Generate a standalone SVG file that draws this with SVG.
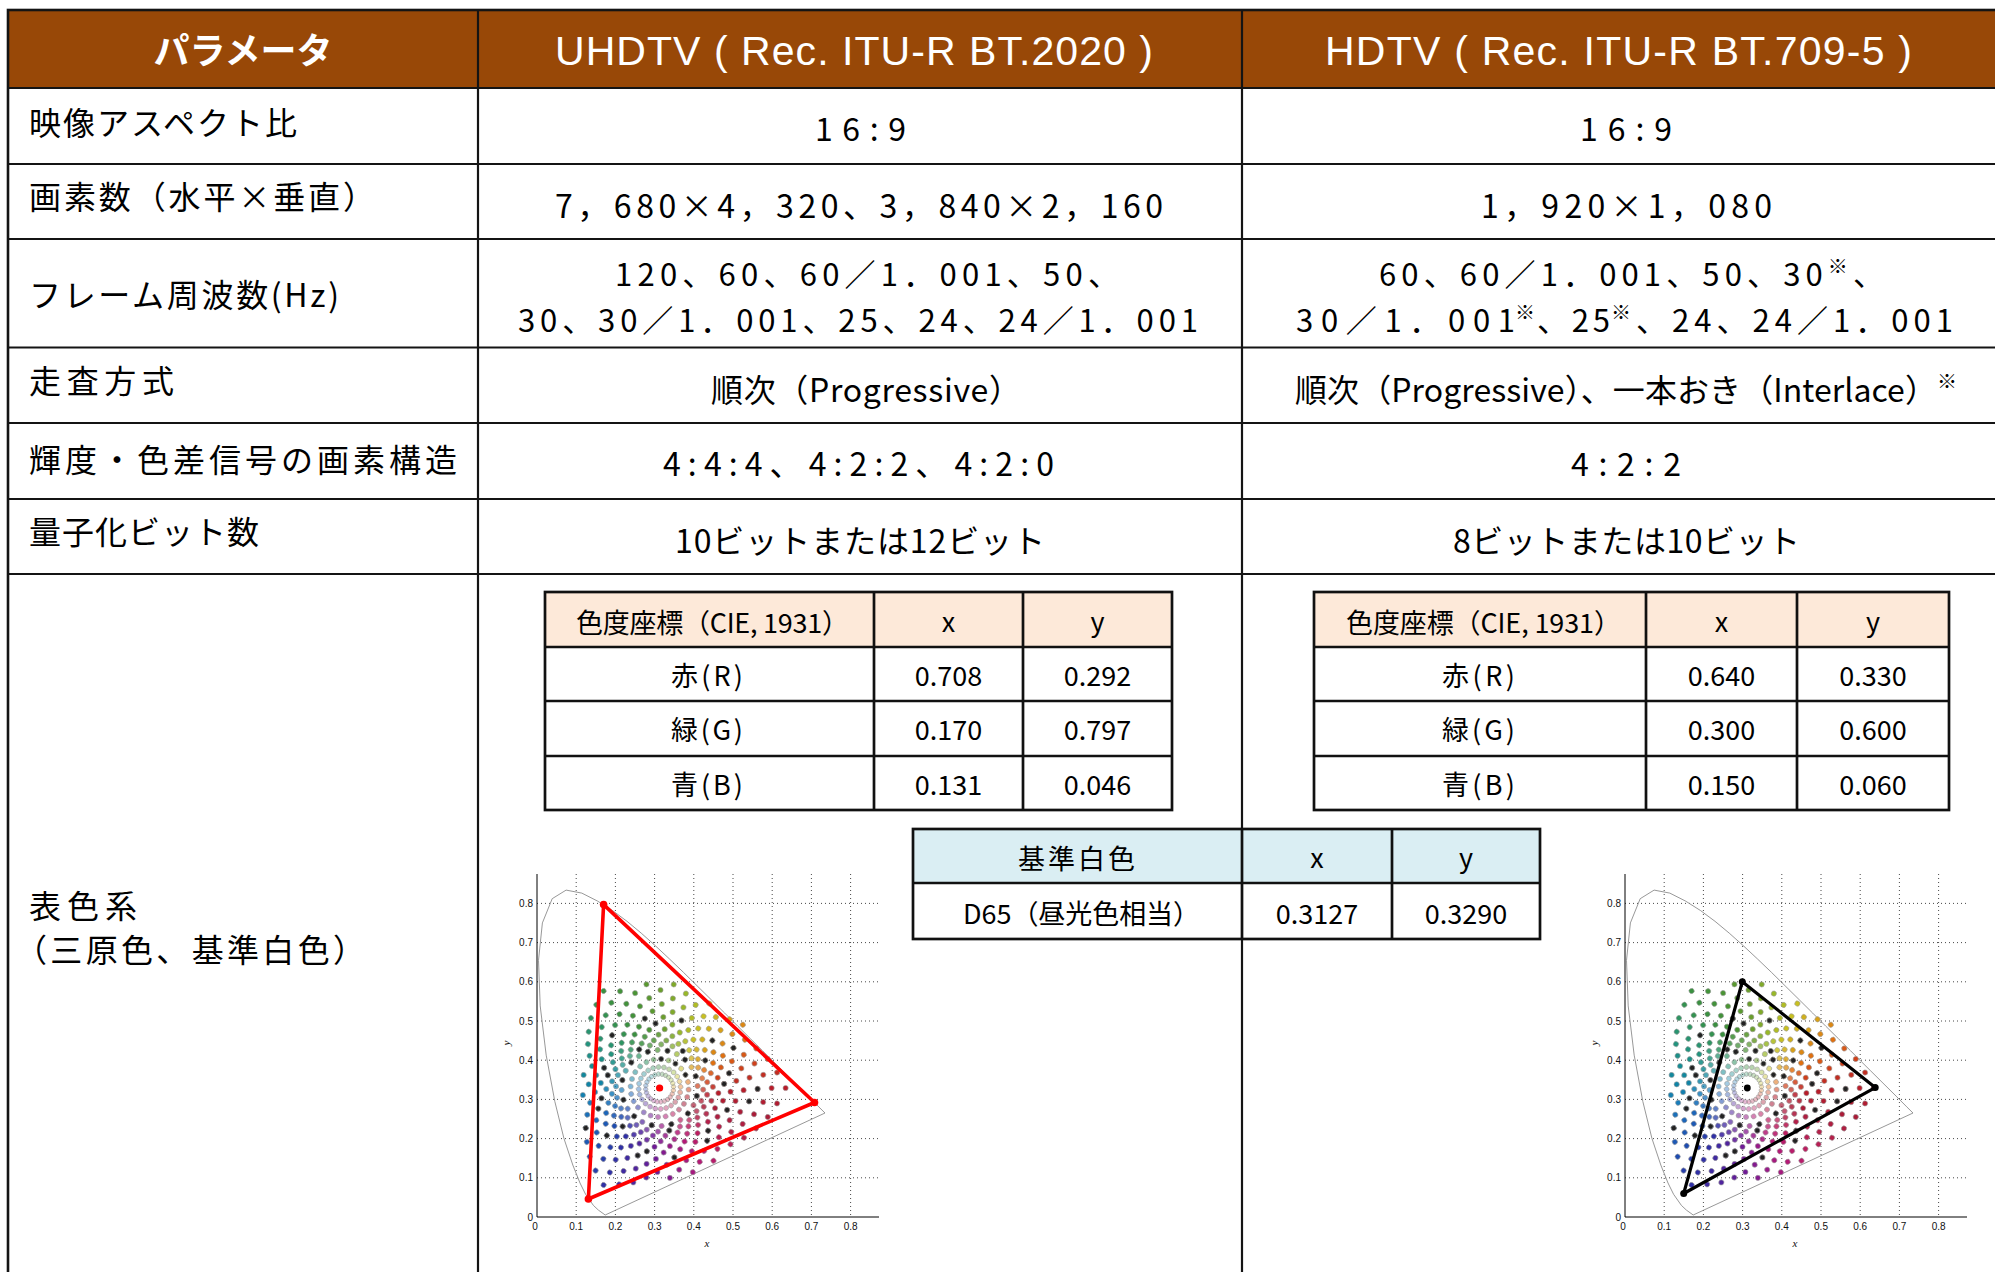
<svg xmlns="http://www.w3.org/2000/svg" width="1995" height="1272" viewBox="0 0 1995 1272">
<style>
.ln{stroke:#141414;stroke-width:2.2;fill:none}
.hd{font-family:"Liberation Sans",Arial,sans-serif;font-size:41px;fill:#fff}
.hj{font-family:"Noto Sans CJK JP","Noto Sans",sans-serif;font-weight:bold;font-size:36px;fill:#fff}
.lb,.v{font-family:"Noto Sans CJK JP","Noto Sans",sans-serif;font-size:32px;fill:#000}
.v2{font-family:"Noto Sans CJK JP","Noto Sans",sans-serif;font-size:31px;fill:#000}
.sup{font-size:20px}
.sp{font-family:"Noto Sans CJK JP","Noto Sans",sans-serif;font-size:20px;fill:#000}
.t{font-family:"Noto Sans CJK JP","Noto Sans",sans-serif;font-size:27px;fill:#000}
.tn{font-family:"Noto Sans CJK JP","Noto Sans",sans-serif;font-size:27px;fill:#000;text-anchor:middle}
.it{stroke:#111;stroke-width:2.7;fill:none}
.gr{stroke:#333;stroke-width:0.9;stroke-dasharray:1 3;fill:none}
.axl{stroke:#000;stroke-width:1;fill:none}
.tk{font-family:"Liberation Sans",Arial,sans-serif;font-size:10px;fill:#111}
.tky{font-family:"Liberation Sans",Arial,sans-serif;font-size:10px;fill:#111;text-anchor:end}
.ttl{font-family:"Liberation Serif",serif;font-style:italic;font-size:11px;fill:#111}
.hs{stroke:#8c8c8c;stroke-width:0.9;fill:none;stroke-linejoin:round}
.dt{stroke:#a0a0a0;stroke-width:0.6}
.dk{fill:#222;stroke:#a0a0a0;stroke-width:0.6}
</style>
<defs>
<g id="c">
<circle class="dt" r="2.2" cx="10.7" cy="9" fill-opacity=".3"/>
<circle class="dt" r="2.4" cx="18.7" cy="9.5" fill-opacity=".4"/>
<circle class="dt" r="2.5" cx="27.6" cy="9" fill-opacity=".55"/>
</g>
<g id="s8">
<circle class="dt" r="2.6" cx="37.2" cy="7.9" fill-opacity=".7"/>
<circle class="dt" r="2.6" cx="47.5" cy="6.7" fill-opacity=".85"/>
<circle class="dt" r="2.6" cx="58.8" cy="5.1"/>
<circle class="dt" r="2.6" cx="70.9" cy="3.7"/>
</g>
<g id="s9"><use href="#s8"/><circle class="dt" r="2.6" cx="84" cy="2.2"/></g>
<g id="s10"><use href="#s9"/><circle class="dt" r="2.6" cx="98" cy="0.9"/></g>
<g id="s11"><use href="#s10"/><circle class="dt" r="2.6" cx="112" cy="0"/></g>
<g id="s12"><use href="#s11"/><circle class="dt" r="2.6" cx="126" cy="0"/></g>
<g id="t8">
<circle class="dt" r="2.6" cx="43" cy="7.3" fill-opacity=".75"/>
<circle class="dt" r="2.6" cx="53" cy="5.9" fill-opacity=".9"/>
<circle class="dt" r="2.6" cx="64.5" cy="4.4"/>
<circle class="dt" r="2.6" cx="77" cy="3"/>
</g>
<g id="t9"><use href="#t8"/><circle class="dt" r="2.6" cx="90.5" cy="1.5"/></g>
<g id="t10"><use href="#t9"/><circle class="dt" r="2.6" cx="104.5" cy="0.5"/></g>
<g id="t11"><use href="#t10"/><circle class="dt" r="2.6" cx="118.5" cy="0"/></g>
<g id="cloud">
<g transform="rotate(0)" fill="#b81c2a"><use href="#c"/><use href="#s12"/><circle class="dk" r="2.6" cx="37.2" cy="7.9"/><circle class="dk" r="2.6" cx="98" cy="0.9"/></g>
<g transform="rotate(-15)" fill="#d0401a"><use href="#c"/><use href="#s11"/><circle class="dk" r="2.6" cx="70.9" cy="3.7"/></g>
<g transform="rotate(-30)" fill="#e07010"><use href="#c"/><use href="#s10"/><circle class="dk" r="2.6" cx="37.2" cy="7.9"/><circle class="dk" r="2.6" cx="84" cy="2.2"/></g>
<g transform="rotate(-45)" fill="#d8a018"><use href="#c"/><use href="#s10"/><circle class="dk" r="2.6" cx="70.9" cy="3.7"/><circle class="dk" r="2.5" cx="27.6" cy="9"/></g>
<g transform="rotate(-60)" fill="#c8c020"><use href="#c"/><use href="#s10"/><circle class="dk" r="2.6" cx="37.2" cy="7.9"/></g>
<g transform="rotate(-75)" fill="#98b828"><use href="#c"/><use href="#s10"/><circle class="dk" r="2.6" cx="70.9" cy="3.7"/><circle class="dk" r="2.5" cx="27.6" cy="9"/></g>
<g transform="rotate(-90)" fill="#6a9e2c"><use href="#c"/><use href="#s10"/><circle class="dk" r="2.6" cx="37.2" cy="7.9"/></g>
<g transform="rotate(-105)" fill="#4a9434"><use href="#c"/><use href="#s10"/><circle class="dk" r="2.6" cx="70.9" cy="3.7"/><circle class="dk" r="2.5" cx="27.6" cy="9"/></g>
<g transform="rotate(-120)" fill="#3a9040"><use href="#c"/><use href="#s11"/><circle class="dk" r="2.6" cx="37.2" cy="7.9"/></g>
<g transform="rotate(-135)" fill="#2e9462"><use href="#c"/><use href="#s10"/><circle class="dk" r="2.6" cx="70.9" cy="3.7"/></g>
<g transform="rotate(-150)" fill="#22947e"><use href="#c"/><use href="#s9"/><circle class="dk" r="2.6" cx="37.2" cy="7.9"/></g>
<g transform="rotate(-165)" fill="#148c94"><use href="#c"/><use href="#s8"/><circle class="dk" r="2.6" cx="58.8" cy="5.1"/></g>
<g transform="rotate(-180)" fill="#1084a6"><use href="#c"/><use href="#s8"/><circle class="dk" r="2.6" cx="37.2" cy="7.9"/></g>
<g transform="rotate(-195)" fill="#187cba"><use href="#c"/><use href="#s8"/><circle class="dk" r="2.6" cx="58.8" cy="5.1"/></g>
<g transform="rotate(-210)" fill="#1c66ba"><use href="#c"/><use href="#s9"/><circle class="dk" r="2.6" cx="37.2" cy="7.9"/><circle class="dk" r="2.6" cx="84" cy="2.2"/></g>
<g transform="rotate(-225)" fill="#1e4cb0"><use href="#c"/><use href="#s10"/><circle class="dk" r="2.6" cx="70.9" cy="3.7"/></g>
<g transform="rotate(-240)" fill="#3030a6"><use href="#c"/><use href="#s11"/><circle class="dk" r="2.6" cx="37.2" cy="7.9"/></g>
<g transform="rotate(-255)" fill="#50249e"><use href="#c"/><use href="#s10"/><circle class="dk" r="2.6" cx="70.9" cy="3.7"/></g>
<g transform="rotate(-270)" fill="#701a96"><use href="#c"/><use href="#s9"/><circle class="dk" r="2.6" cx="37.2" cy="7.9"/></g>
<g transform="rotate(-285)" fill="#981a88"><use href="#c"/><use href="#s9"/><circle class="dk" r="2.6" cx="70.9" cy="3.7"/></g>
<g transform="rotate(-300)" fill="#b41a76"><use href="#c"/><use href="#s9"/><circle class="dk" r="2.6" cx="37.2" cy="7.9"/></g>
<g transform="rotate(-315)" fill="#bc1e60"><use href="#c"/><use href="#s9"/><circle class="dk" r="2.6" cx="70.9" cy="3.7"/></g>
<g transform="rotate(-330)" fill="#b4204a"><use href="#c"/><use href="#s10"/><circle class="dk" r="2.6" cx="37.2" cy="7.9"/></g>
<g transform="rotate(-345)" fill="#aa1c38"><use href="#c"/><use href="#s11"/><circle class="dk" r="2.6" cx="70.9" cy="3.7"/></g>
<g transform="rotate(-7.5)" fill="#c22e22"><use href="#t11"/><circle class="dk" r="2.6" cx="64.5" cy="4.4"/></g>
<g transform="rotate(-22.5)" fill="#d85816"><use href="#t10"/></g>
<g transform="rotate(-37.5)" fill="#dc8814"><use href="#t10"/><circle class="dk" r="2.6" cx="53" cy="5.9"/></g>
<g transform="rotate(-52.5)" fill="#d0b01c"><use href="#t9"/></g>
<g transform="rotate(-67.5)" fill="#b0bc24"><use href="#t9"/><circle class="dk" r="2.6" cx="43" cy="7.3"/></g>
<g transform="rotate(-82.5)" fill="#80aa2a"><use href="#t10"/></g>
<g transform="rotate(-97.5)" fill="#5a9930"><use href="#t10"/><circle class="dk" r="2.6" cx="64.5" cy="4.4"/></g>
<g transform="rotate(-112.5)" fill="#42923a"><use href="#t10"/></g>
<g transform="rotate(-127.5)" fill="#349250"><use href="#t10"/><circle class="dk" r="2.6" cx="43" cy="7.3"/></g>
<g transform="rotate(-142.5)" fill="#289470"><use href="#t9"/></g>
<g transform="rotate(-157.5)" fill="#1c9088"><use href="#t8"/></g>
<g transform="rotate(-172.5)" fill="#12889d"><use href="#t8"/><circle class="dk" r="2.6" cx="53" cy="5.9"/></g>
<g transform="rotate(-187.5)" fill="#1480b0"><use href="#t8"/></g>
<g transform="rotate(-202.5)" fill="#1a70ba"><use href="#t8"/><circle class="dk" r="2.6" cx="64.5" cy="4.4"/></g>
<g transform="rotate(-217.5)" fill="#1d59b5"><use href="#t9"/></g>
<g transform="rotate(-232.5)" fill="#273eab"><use href="#t10"/><circle class="dk" r="2.6" cx="53" cy="5.9"/></g>
<g transform="rotate(-247.5)" fill="#402aa2"><use href="#t10"/></g>
<g transform="rotate(-262.5)" fill="#601f9a"><use href="#t9"/><circle class="dk" r="2.6" cx="64.5" cy="4.4"/></g>
<g transform="rotate(-277.5)" fill="#841a8f"><use href="#t9"/></g>
<g transform="rotate(-292.5)" fill="#a61a7f"><use href="#t9"/><circle class="dk" r="2.6" cx="43" cy="7.3"/></g>
<g transform="rotate(-307.5)" fill="#b81c6b"><use href="#t9"/></g>
<g transform="rotate(-322.5)" fill="#b81f55"><use href="#t9"/><circle class="dk" r="2.6" cx="64.5" cy="4.4"/></g>
<g transform="rotate(-337.5)" fill="#af1e41"><use href="#t10"/></g>
<g transform="rotate(-352.5)" fill="#b11c31"><use href="#t11"/><circle class="dk" r="2.6" cx="90.5" cy="1.5"/></g>
</g>
<g id="chart">
<path class="gr" d="M0 -39.2H342M0 -78.4H342M0 -117.6H342M0 -156.8H342M0 -196H342M0 -235.2H342M0 -274.4H342M0 -313.6H342M39.2 -343V0M78.4 -343V0M117.6 -343V0M156.8 -343V0M196 -343V0M235.2 -343V0M274.4 -343V0M313.6 -343V0"/>
<path class="axl" d="M0 -343V0H342"/>
<path class="hs" d="M68.2,-2 L61.4,-6.9 L56.4,-11.6 L48.6,-22.7 L43,-34 L35.8,-52 L26.9,-78.7 L17.8,-115.6 L9.2,-161.8 L3.2,-211.1 L1.5,-256.7 L5.4,-294.1 L15.2,-318.3 L29.1,-326.9 L44.8,-323.9 L60.6,-315.9 L75.6,-306.4 L90,-295.7 L104.2,-283.9 L118.2,-271.4 L132.2,-258.3 L146.3,-244.8 L160.2,-231.1 L174.1,-217.4 L187.7,-203.9 L200.9,-190.7 L213.6,-178.1 L225.5,-166.3 L236.3,-155.4 L245.8,-146 L261,-130.9 L271.1,-120.9 L281.8,-110.1 L288,-104 Z"/>
<use href="#cloud" x="122.6" y="-129"/>
<text class="tky" x="-4" y="3.5">0</text>
<text class="tky" x="-4" y="-35.7">0.1</text>
<text class="tky" x="-4" y="-74.9">0.2</text>
<text class="tky" x="-4" y="-114.1">0.3</text>
<text class="tky" x="-4" y="-153.3">0.4</text>
<text class="tky" x="-4" y="-192.5">0.5</text>
<text class="tky" x="-4" y="-231.7">0.6</text>
<text class="tky" x="-4" y="-270.9">0.7</text>
<text class="tky" x="-4" y="-310.1">0.8</text>
<g text-anchor="middle">
<text class="tk" x="-2" y="13">0</text>
<text class="tk" x="39.2" y="13">0.1</text>
<text class="tk" x="78.4" y="13">0.2</text>
<text class="tk" x="117.6" y="13">0.3</text>
<text class="tk" x="156.8" y="13">0.4</text>
<text class="tk" x="196" y="13">0.5</text>
<text class="tk" x="235.2" y="13">0.6</text>
<text class="tk" x="274.4" y="13">0.7</text>
<text class="tk" x="313.6" y="13">0.8</text>
<text class="ttl" x="170" y="30">x</text>
<text class="ttl" transform="translate(-27,-174) rotate(-90)">y</text>
</g>
</g>
</defs>

<g id="main-table">
<rect x="8" y="10" width="1994" height="78" fill="#984807"/>
<path class="ln" d="M8 88H2002M8 164H2002M8 239H2002M8 347.5H2002M8 423H2002M8 499H2002M8 574H2002M478 10V1272M1242 10V1272"/>
<rect x="8" y="10" width="2000" height="1280" fill="none" stroke="#141414" stroke-width="2.6"/>
</g>

<g id="header">
<text class="hj" x="243" y="64" text-anchor="middle">パラメータ</text>
<text class="hd" x="555" y="65" textLength="598">UHDTV ( Rec. ITU-R BT.2020 )</text>
<text class="hd" x="1325" y="65" textLength="587">HDTV ( Rec. ITU-R BT.709-5 )</text>
</g>

<g id="row-aspect">
<text class="lb" x="29" y="135" textLength="268">映像アスペクト比</text>
<text class="v" x="815" y="141" textLength="91">16:9</text>
<text class="v" x="1580" y="141" textLength="92">16:9</text>
</g>
<g id="row-pixels">
<text class="lb" x="29" y="209" textLength="346">画素数（水平×垂直）</text>
<text class="v" x="555" y="218" textLength="608">7，680×4，320、3，840×2，160</text>
<text class="v" x="1481" y="218" textLength="291">1，920×1，080</text>
</g>
<g id="row-frame">
<text class="lb" x="29" y="307" textLength="310">フレーム周波数(Hz)</text>
<text class="v2" x="615" y="286" textLength="504">120、60、60／1．001、50、</text>
<text class="v2" x="518" y="332" textLength="680">30、30／1．001、25、24、24／1．001</text>
<text class="v2" x="1379" y="286" textLength="505">60、60／1．001、50、30<tspan class="sup" dy="-12">※</tspan><tspan dy="12">、</tspan></text>
<text class="v2" x="1296" y="332" textLength="219">30／1．001</text>
<text class="sp" x="1515" y="320">※</text>
<text class="v2" x="1537" y="332" textLength="73">、25</text>
<text class="sp" x="1611" y="320">※</text>
<text class="v2" x="1636" y="332" textLength="317">、24、24／1．001</text>
</g>
<g id="row-scan">
<text class="lb" x="29" y="393" textLength="145">走査方式</text>
<text class="v" x="711" y="402" textLength="310">順次（Progressive）</text>
<text class="v" x="1295" y="402" textLength="662">順次（Progressive）、一本おき（Interlace）<tspan class="sup" dy="-13">※</tspan></text>
</g>
<g id="row-structure">
<text class="lb" x="29" y="472" textLength="428">輝度・色差信号の画素構造</text>
<text class="v" x="663" y="476" textLength="391">4:4:4、4:2:2、4:2:0</text>
<text class="v" x="1571" y="476" textLength="110">4:2:2</text>
</g>
<g id="row-bits">
<text class="lb" x="29" y="544" textLength="230">量子化ビット数</text>
<text class="v" x="675" y="553" textLength="370">10ビットまたは12ビット</text>
<text class="v" x="1453" y="553" textLength="347">8ビットまたは10ビット</text>
</g>
<g id="row-colorimetry">
<text class="lb" x="29" y="918" textLength="108">表色系</text>
<text class="lb" x="15" y="962" textLength="350">（三原色、基準白色）</text>
</g>

<g id="uhdtv-primaries">
<rect x="545" y="592" width="627" height="55" fill="#fde9d9"/>
<path class="it" d="M545 647H1172M545 701H1172M545 756H1172M874 592V810M1023 592V810"/>
<rect class="it" x="545" y="592" width="627" height="218"/>
<text class="t" x="576" y="633" textLength="273">色度座標（CIE, 1931）</text>
<text class="tn" x="948.5" y="632">x</text>
<text class="tn" x="1097.5" y="632">y</text>
<text class="t" x="671" y="686" textLength="72">赤(R)</text>
<text class="tn" x="948.5" y="686">0.708</text>
<text class="tn" x="1097.5" y="686">0.292</text>
<text class="t" x="671" y="740" textLength="72">緑(G)</text>
<text class="tn" x="948.5" y="740">0.170</text>
<text class="tn" x="1097.5" y="740">0.797</text>
<text class="t" x="671" y="795" textLength="72">青(B)</text>
<text class="tn" x="948.5" y="795">0.131</text>
<text class="tn" x="1097.5" y="795">0.046</text>
</g>

<g id="hdtv-primaries">
<rect x="1314" y="592" width="635" height="55" fill="#fde9d9"/>
<path class="it" d="M1314 647H1949M1314 701H1949M1314 756H1949M1646 592V810M1797 592V810"/>
<rect class="it" x="1314" y="592" width="635" height="218"/>
<text class="t" x="1346" y="633" textLength="275">色度座標（CIE, 1931）</text>
<text class="tn" x="1721.5" y="632">x</text>
<text class="tn" x="1873" y="632">y</text>
<text class="t" x="1442" y="686" textLength="73">赤(R)</text>
<text class="tn" x="1721.5" y="686">0.640</text>
<text class="tn" x="1873" y="686">0.330</text>
<text class="t" x="1442" y="740" textLength="73">緑(G)</text>
<text class="tn" x="1721.5" y="740">0.300</text>
<text class="tn" x="1873" y="740">0.600</text>
<text class="t" x="1442" y="795" textLength="73">青(B)</text>
<text class="tn" x="1721.5" y="795">0.150</text>
<text class="tn" x="1873" y="795">0.060</text>
</g>

<g id="white-point">
<rect x="913" y="829" width="627" height="54" fill="#daeef3"/>
<rect x="913" y="883" width="627" height="56" fill="#fff"/>
<path class="it" d="M913 883H1540M1242 829V939M1392 829V939"/>
<rect class="it" x="913" y="829" width="627" height="110"/>
<text class="t" x="1018" y="869" textLength="117">基準白色</text>
<text class="tn" x="1317" y="868">x</text>
<text class="tn" x="1466" y="868">y</text>
<text class="t" x="963" y="924" textLength="237">D65（昼光色相当）</text>
<text class="tn" x="1317" y="924">0.3127</text>
<text class="tn" x="1466" y="924">0.3290</text>
</g>

<g id="chart-uhdtv">
<use href="#chart" x="537" y="1217"/>
<polygon points="814.5,1102.5 603.6,904.6 588.4,1199" fill="none" stroke="#ff0000" stroke-width="3.6" stroke-linejoin="round"/>
<g fill="#ff0000">
<circle cx="814.5" cy="1102.5" r="3.8"/>
<circle cx="603.6" cy="904.6" r="3.8"/>
<circle cx="588.4" cy="1199" r="3.8"/>
<circle cx="659.6" cy="1088" r="3.6"/>
</g>
</g>

<g id="chart-hdtv">
<use href="#chart" x="1625" y="1217"/>
<polygon points="1875.2,1087.6 1742.3,981.8 1683.7,1193.5" fill="none" stroke="#000" stroke-width="3.2" stroke-linejoin="round"/>
<g fill="#000">
<circle cx="1875.2" cy="1087.6" r="3.5"/>
<circle cx="1742.3" cy="981.8" r="3.5"/>
<circle cx="1683.7" cy="1193.5" r="3.5"/>
<circle cx="1747.3" cy="1088" r="3.4"/>
</g>
</g>
</svg>
